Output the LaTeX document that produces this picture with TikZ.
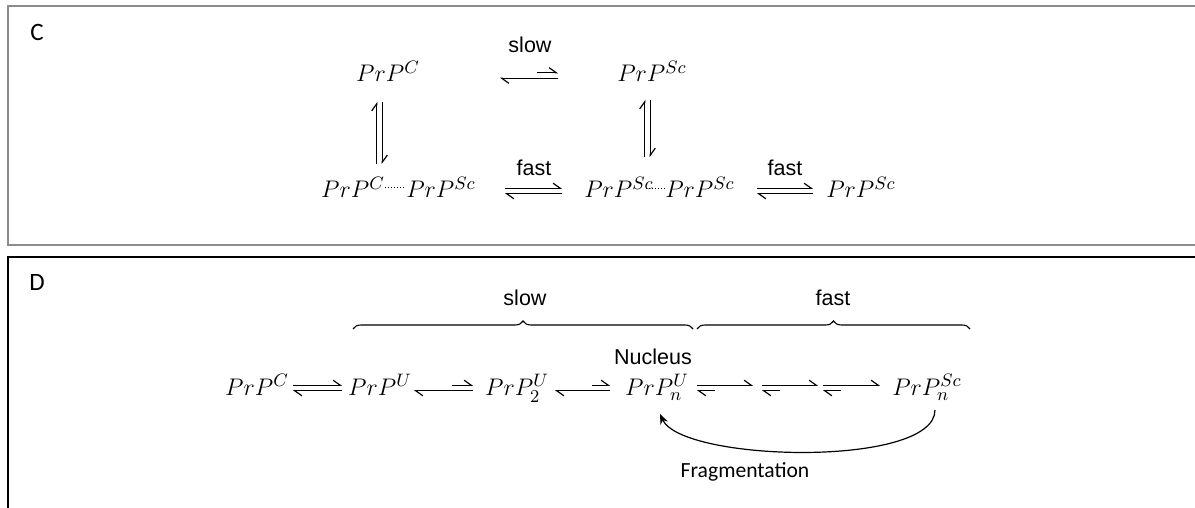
\documentclass[tikz,border=0pt]{standalone}
\usepackage{amsmath,amssymb}
\usepackage{fontspec}
\setsansfont{Liberation Sans}
\newfontfamily\calibri{Carlito}
\usepackage{tikz}
\usetikzlibrary{arrows.meta,positioning,decorations.pathreplacing}

\tikzset{
  species/.style={anchor=base, inner sep=0pt, font=\fontsize{13}{15}\selectfont},
  rate/.style={font=\sffamily\fontsize{10.75}{12}\selectfont},
  panel/.style={font=\calibri\fontsize{12.5}{14}\selectfont},
  hp/.style={line width=0.6pt, -{Straight Barb[left,length=3.5pt,width=5pt]}},
  dotlink/.style={densely dotted, line width=0.5pt},
  span/.style={decorate, decoration={brace, amplitude=4pt, aspect=0.5}, line width=0.55pt}
}

\begin{document}
\begin{tikzpicture}[x=0.5pt, y=-0.5pt]
    \useasboundingbox (0,0) rectangle (1195,508);

    % Panel frames and letters
    \draw[black!45, line width=1pt] (1195,6) -- (8,6) -- (8,245) -- (1195,245);
    \draw[black, line width=0.8pt] (1195,257) -- (8,257) -- (8,508);
    \node[panel] (labC) at (37,32) {C};
    \node[panel] (labD) at (37,282) {D};

    % Panel C: top row
    \node[species] (pcT) at (388,82) {$PrP^{C}$};
    \node[species] (pscT) at (652,82) {$PrP^{Sc}$};
    \node[rate] (slowC) at (530,45) {slow};
    \coordinate (sA) at (500,75.5);
    \coordinate (sB) at (558,75.5);
    \draw[hp] ([shift={(18.5pt,1.4pt)}]sA) -- ([yshift=1.4pt]sB);
    \draw[hp] ([yshift=-1.4pt]sB) -- ([yshift=-1.4pt]sA);

    % Panel C: vertical equilibria
    \coordinate (vL1) at (379.5,102);
    \coordinate (vL2) at (379.5,164);
    \draw[hp] ([xshift=-1.4pt]vL2) -- ([xshift=-1.4pt]vL1);
    \draw[hp] ([xshift=1.4pt]vL1) -- ([xshift=1.4pt]vL2);
    \coordinate (vR1) at (647.5,100);
    \coordinate (vR2) at (647.5,157);
    \draw[hp] ([xshift=-1.4pt]vR2) -- ([xshift=-1.4pt]vR1);
    \draw[hp] ([xshift=1.4pt]vR1) -- ([xshift=1.4pt]vR2);

    % Panel C: bottom row
    \node[species] (pcA) at (353,198) {$PrP^{C}$};
    \node[species] (pscA) at (441,198) {$PrP^{Sc}$};
    \draw[dotlink] ([yshift=5pt]pcA.base east) -- ([yshift=5pt]pscA.base west);
    \node[species] (pscB) at (619,198) {$PrP^{Sc}$};
    \node[species] (pscB2) at (700,198) {$PrP^{Sc}$};
    \draw[dotlink] ([shift={(-4pt,4.5pt)}]pscB.base east) -- ([yshift=4.5pt]pscB2.base west);
    \node[species] (pscC) at (861,198) {$PrP^{Sc}$};
    \node[rate] (fastC1) at (534,168) {fast};
    \node[rate] (fastC2) at (785,168) {fast};
    \foreach \a/\b in {505/562, 757/813} {
        \draw[hp] ([yshift=1.4pt]\a,191) -- ([yshift=1.4pt]\b,191);
        \draw[hp] ([yshift=-1.4pt]\b,191) -- ([yshift=-1.4pt]\a,191);
    }

    % Panel D: braces
    \node[rate] (slowD) at (525,298) {slow};
    \node[rate] (fastD) at (833,298) {fast};
    \draw[span] (353,329) -- (693,329);
    \draw[span] (697,329) -- (970,329);
    \node[rate] (nuc) at (653,357) {Nucleus};

    % Panel D: aggregation chain
    \node[species] (pcD) at (257,395) {$PrP^{C}$};
    \node[species] (puD) at (380,395) {$PrP^{U}$};
    \node[species] (pu2D) at (517,395) {$PrP_2^{U}$};
    \node[species] (punD) at (657,395) {$PrP_n^{U}$};
    \node[species] (pscD) at (927,395) {$PrP_n^{Sc}$};
    \draw[hp] ([yshift=1.4pt]293,388) -- ([yshift=1.4pt]342,388);
    \draw[hp] ([yshift=-1.4pt]342,388) -- ([yshift=-1.4pt]293,388);
    \foreach \a/\b/\c in {414/452/473, 555/592/610} {
        \draw[hp] ([yshift=1.4pt]\b,388) -- ([yshift=1.4pt]\c,388);
        \draw[hp] ([yshift=-1.4pt]\c,388) -- ([yshift=-1.4pt]\a,388);
    }
    \foreach \a/\b in {697/753, 762/818, 823/880} {
        \draw[hp] ([yshift=1.4pt]\a,388) -- ([yshift=1.4pt]\b,388);
        \draw[hp] ([yshift=-1.4pt]\a+18,388) -- ([yshift=-1.4pt]\a,388);
    }

    % Fragmentation loop
    \draw[line width=0.6pt, -{Stealth[length=5pt,width=4pt]}]
        ([shift={(4pt,-7.5pt)}]pscD.base) .. controls +(0,58) and +(22,48) .. ([shift={(1.5pt,-9.5pt)}]punD.base);
    \node[font=\calibri\fontsize{10.8}{12}\selectfont] (frag) at (745,472) {Fragmentation};

\end{tikzpicture}
\end{document}
